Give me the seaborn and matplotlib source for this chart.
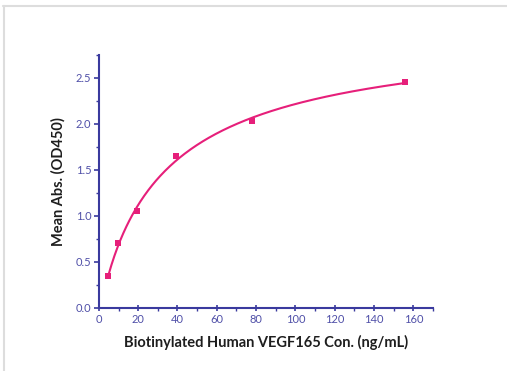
import numpy as np
import pandas as pd
import matplotlib
matplotlib.use("Agg")
import matplotlib.pyplot as plt
import seaborn as sns
from matplotlib.ticker import MultipleLocator

# Data
conc = [4.88, 9.77, 19.5, 39.0, 78.0, 156.0]
absorb = [0.35, 0.70, 1.05, 1.65, 2.03, 2.45]
x_label = "Biotinylated Human VEGF165 Con. (ng/mL)"
y_label = "Mean Abs. (OD450)"

sns.set_theme(style="white")
plt.rcParams['font.family'] = ['Lato', 'DejaVu Sans']

# 4-parameter logistic fit (grid over b, c; linear solve for a, d)
x = np.array(conc)
y = np.array(absorb)
best = None
for b in np.linspace(0.3, 2.5, 221):
    for c in np.logspace(0, 4.5, 451):
        g = 1.0 / (1.0 + (x / c) ** b)
        A = np.column_stack([g, 1 - g])
        coef, *_ = np.linalg.lstsq(A, y, rcond=None)
        r = np.sum((A @ coef - y) ** 2)
        if best is None or r < best[0]:
            best = (r, b, c, coef[0], coef[1])
_, b, c, a, d = best
xf = np.linspace(min(conc), max(conc), 300)
yf = d + (a - d) / (1.0 + (xf / c) ** b)
fit = pd.DataFrame({"x": xf, "y": yf})
pts = pd.DataFrame({"x": conc, "y": absorb})

pink = "#e61f7a"
navy = "#3a3a9e"
ticklab = "#5050a8"

fig = plt.figure(figsize=(5.07, 3.71), dpi=100)
ax = fig.add_axes([0.195, 0.170, 0.659, 0.683])
sns.lineplot(data=fit, x="x", y="y", ax=ax, color=pink, linewidth=1.5)
sns.scatterplot(data=pts, x="x", y="y", ax=ax, color=pink, marker="s", s=20,
                edgecolor=pink, linewidth=0, zorder=5)

ax.set_xlim(0, 170)
ax.set_ylim(0, 2.75)
ax.xaxis.set_major_locator(MultipleLocator(20))
ax.xaxis.set_minor_locator(MultipleLocator(10))
ax.yaxis.set_major_locator(MultipleLocator(0.5))
ax.yaxis.set_minor_locator(MultipleLocator(0.25))
ax.set_xticks(np.arange(0, 161, 20))
ax.set_yticks(np.arange(0, 2.51, 0.5))
ax.yaxis.set_major_formatter(matplotlib.ticker.FormatStrFormatter('%.1f'))

for s in ["top", "right"]:
    ax.spines[s].set_visible(False)
for s in ["left", "bottom"]:
    ax.spines[s].set_color(navy)
    ax.spines[s].set_linewidth(1.5)

ax.tick_params(axis="x", which="major", direction="inout", length=5, width=1.2,
               color=navy, labelcolor=ticklab, labelsize=8, pad=2, bottom=True)
ax.tick_params(axis="x", which="minor", direction="out", length=2.5, width=1.0,
               color=navy, bottom=True)
ax.tick_params(axis="y", which="major", direction="out", length=3.5, width=1.2,
               color=navy, labelcolor=ticklab, labelsize=8, pad=2, left=True)
ax.tick_params(axis="y", which="minor", direction="out", length=2.5, width=1.0,
               color=navy, left=True)

ax.set_xlabel(x_label, fontsize=10.5, fontweight="bold", color="#1e1e1e", labelpad=7)
ax.set_ylabel(y_label, fontsize=10.5, fontweight="bold", color="#1e1e1e", labelpad=7)

# light frame lines at top and left of the image
fig.add_artist(plt.Line2D([0.006, 1.0], [0.985, 0.985], color="#dddddd", linewidth=1.5,
                          transform=fig.transFigure))
fig.add_artist(plt.Line2D([0.007, 0.007], [0.0, 0.985], color="#dddddd", linewidth=1.5,
                          transform=fig.transFigure))

fig.savefig("out.png", dpi=100)
